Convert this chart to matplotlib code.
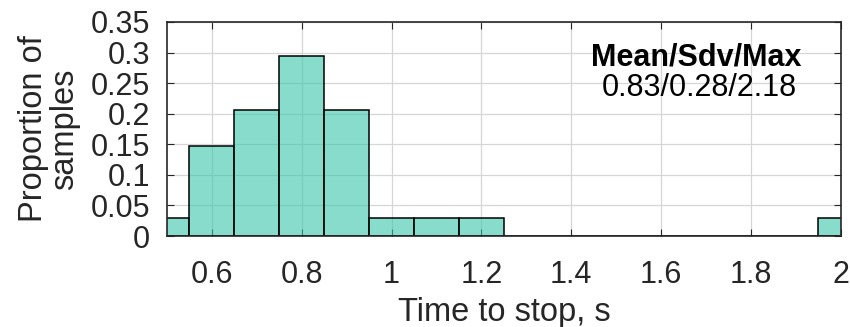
import numpy as np
import matplotlib.pyplot as plt

# histogram of time to stop (34 samples, bin width 0.1 s)
bin_centers = [0.5, 0.6, 0.7, 0.8, 0.9, 1.0, 1.1, 1.2, 1.3, 1.4, 1.5, 1.6, 1.7, 1.8, 1.9, 2.0]
counts = [1, 5, 7, 10, 7, 1, 1, 1, 0, 0, 0, 0, 0, 0, 0, 1]
n_samples = 34
bin_width = 0.1
proportions = np.array(counts) / n_samples

x_ticks = [0.6, 0.8, 1.0, 1.2, 1.4, 1.6, 1.8, 2.0]
x_tick_labels = ["0.6", "0.8", "1", "1.2", "1.4", "1.6", "1.8", "2"]
y_ticks = [0, 0.05, 0.1, 0.15, 0.2, 0.25, 0.3, 0.35]
y_tick_labels = ["0", "0.05", "0.1", "0.15", "0.2", "0.25", "0.3", "0.35"]

stats_title = "Mean/Sdv/Max"
stats_text = "0.83/0.28/2.18"

plt.rcParams['font.family'] = ['Liberation Sans', 'DejaVu Sans']
dark = '#262626'

fig = plt.figure(figsize=(8.5, 3.27), dpi=100)
ax = fig.add_axes([0.1965, 0.278, 0.7925, 0.655])

ax.grid(True, color='#d6d6d6', linewidth=0.9, zorder=0)
ax.set_axisbelow(True)

ax.bar(bin_centers, proportions, width=bin_width, align='center',
       color=(57/255, 198/255, 170/255, 0.6), edgecolor='black', linewidth=1.1, zorder=2)

ax.set_xlim(0.5, 2.0)
ax.set_ylim(0, 0.35)
ax.set_xticks(x_ticks)
ax.set_xticklabels(x_tick_labels)
ax.set_yticks(y_ticks)
ax.set_yticklabels(y_tick_labels)

ax.tick_params(direction='in', top=True, right=True, length=5, width=0.8,
               colors=dark, labelsize=22)
ax.tick_params(axis='x', pad=17)
ax.tick_params(axis='y', pad=12)
for s in ax.spines.values():
    s.set_color(dark)
    s.set_linewidth(1.2)

ax.set_xlabel("Time to stop, s", fontsize=23.5, color=dark, labelpad=5)
ax.set_ylabel("Proportion of\nsamples", fontsize=23.5, color=dark, labelpad=8, linespacing=1.0)

ax.text(0.785, 0.832, stats_title, transform=ax.transAxes, ha='center', va='center',
        fontsize=22, fontweight='bold', color='black')
ax.text(0.79, 0.692, stats_text, transform=ax.transAxes, ha='center', va='center',
        fontsize=22, color='black')

fig.savefig("out.png", dpi=100)
